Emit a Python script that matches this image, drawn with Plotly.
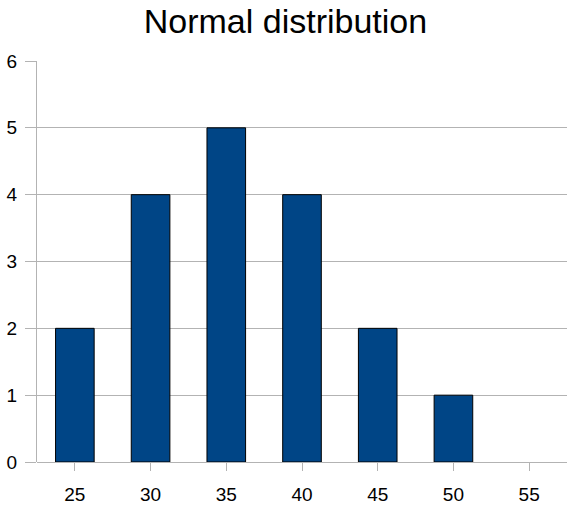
import plotly.graph_objects as go

categories = ["25", "30", "35", "40", "45", "50", "55"]
counts = [2, 4, 5, 4, 2, 1, 0]
y_ticks = [0, 1, 2, 3, 4, 5, 6]
title_text = "Normal distribution"

fig = go.Figure(go.Bar(
    x=categories, y=counts,
    marker=dict(color="#004586",
                line=dict(color="#000000", width=[1 if v > 0 else 0 for v in counts])),
    width=0.51,
))

grid = "#b3b3b3"
fig.update_layout(
    width=567, height=508,
    margin=dict(l=37, r=0, t=61, b=46),
    paper_bgcolor="white", plot_bgcolor="white",
    font=dict(family="Liberation Sans, Arial, sans-serif", color="#000000", size=19),
    title=dict(text=title_text, x=0.5035, xanchor="center", y=0.9587, yanchor="middle",
               font=dict(size=34, color="#000000")),
    showlegend=False,
    hovermode=False,
)
fig.update_xaxes(
    type="category", range=[-0.5, 6.5],
    showgrid=False, showline=False, zeroline=False,
    ticks="outside", ticklen=8, tickcolor=grid, tickwidth=1,
    tickfont=dict(size=19), ticklabelstandoff=7,
)
fig.update_yaxes(
    range=[0, 6], tickvals=y_ticks,
    showgrid=True, gridcolor=grid, gridwidth=1,
    showline=True, linecolor=grid, linewidth=1,
    zeroline=True, zerolinecolor=grid, zerolinewidth=1,
    ticks="outside", ticklen=11, tickcolor=grid, tickwidth=1,
    tickfont=dict(size=19), ticklabelstandoff=4,
)

fig.write_html("out.html",
               config={"displayModeBar": False, "staticPlot": True},
               post_script="document.body.style.margin='0';document.body.style.overflow='hidden';")
